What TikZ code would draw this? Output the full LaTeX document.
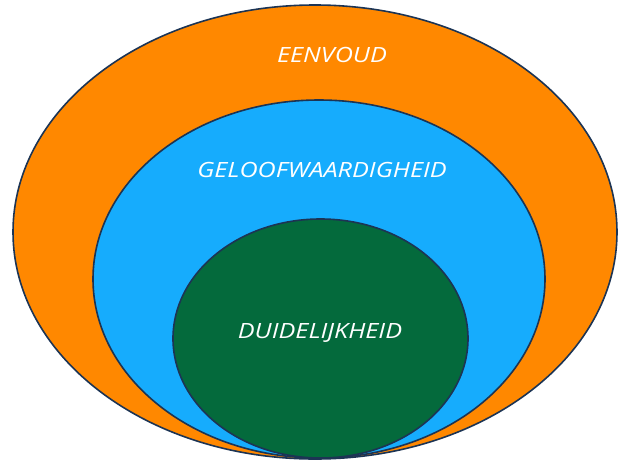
\documentclass[tikz,border=0pt]{standalone}
\usepackage{fontspec}
\setmainfont{Open Sans}
\usetikzlibrary{shapes.geometric}
\definecolor{RingOrange}{RGB}{255,136,0}
\definecolor{RingBlue}{RGB}{22,172,253}
\definecolor{RingGreen}{RGB}{4,106,60}
\definecolor{RingEdge}{RGB}{28,52,84}
\newcommand{\ringlabel}[1]{\scalebox{1.2}[1]{#1}}

\begin{document}
\begin{tikzpicture}[
    x=1pt, y=-1pt,
    ring/.style={ellipse, draw=RingEdge, line width=1.6pt, inner sep=0pt},
    ringtext/.style={text=white, font=\fontsize{21}{24}\selectfont\itshape}
]
    \useasboundingbox (0,0) rectangle (619,461);

    % Ringen
    \node[ring, fill=RingOrange, minimum width=604, minimum height=454] (eenvoud) at (315,232) {};
    \node[ring, fill=RingBlue, minimum width=452, minimum height=358] (geloof) at (319,279) {};
    \node[ring, fill=RingGreen, minimum width=295, minimum height=239] (duidelijk) at (320.5,338.5) {};

    % Teksten
    \node[ringtext] (eenvoudtekst) at (332,55) {\ringlabel{EENVOUD}};
    \node[ringtext] (geloofteskt) at (322,170) {\ringlabel{GELOOFWAARDIGHEID}};
    \node[ringtext] (duidelijktekst) at (320,333) {\ringlabel{DUIDELIJKHEID}};
\end{tikzpicture}
\end{document}
